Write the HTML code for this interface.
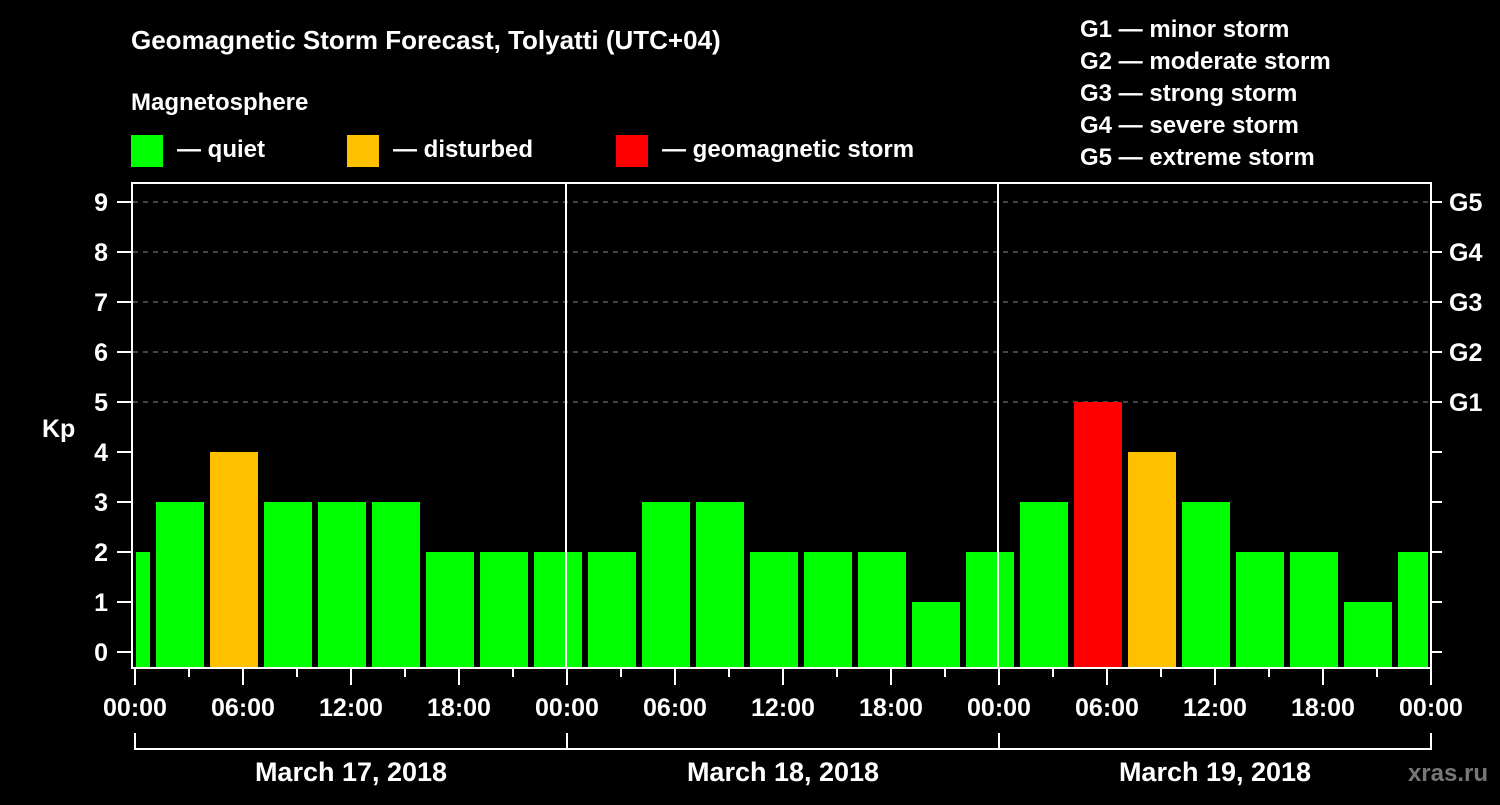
<!DOCTYPE html>
<html><head><meta charset="utf-8"><style>
body{margin:0;background:#000;}
svg text{font-family:"Liberation Sans",Arial,sans-serif;font-weight:bold;fill:#fff;}
</style></head><body>
<svg id="chart" width="1500" height="800" viewBox="0 0 1500 800" xmlns="http://www.w3.org/2000/svg">
<rect width="1500" height="800" fill="#000"/>
<text x="131" y="49" font-size="26">Geomagnetic Storm Forecast, Tolyatti (UTC+04)</text>
<text x="131" y="110" font-size="24">Magnetosphere</text>
<g><rect x="131" y="135" width="32" height="32" fill="#00ff00"/><text x="177" y="157" font-size="24">— quiet</text></g>
<g><rect x="347" y="135" width="32" height="32" fill="#ffc000"/><text x="393" y="157" font-size="24">— disturbed</text></g>
<g><rect x="616" y="135" width="32" height="32" fill="#ff0000"/><text x="662" y="157" font-size="24">— geomagnetic storm</text></g>
<g font-size="24">
<text x="1080" y="37">G1 — minor storm</text>
<text x="1080" y="69">G2 — moderate storm</text>
<text x="1080" y="101">G3 — strong storm</text>
<text x="1080" y="133">G4 — severe storm</text>
<text x="1080" y="165">G5 — extreme storm</text>
</g>
<g id="grid"></g>
<g id="bars"></g>
<g id="axes"></g>
<text x="1488" y="781" font-size="24" text-anchor="end" fill="#777" style="fill:#777">xras.ru</text>
</svg>
<script>
const kpValues=[2,3,4,3,3,3,2,2,2,2,3,3,2,2,2,1,2,3,5,4,3,2,2,1,2];
const kpTicks=[0,1,2,3,4,5,6,7,8,9];
const gLabels=["G1","G2","G3","G4","G5"];
const gLevels=[5,6,7,8,9];
const hourLabels=["00:00","06:00","12:00","18:00","00:00","06:00","12:00","18:00","00:00","06:00","12:00","18:00","00:00"];
const dayLabels=["March 17, 2018","March 18, 2018","March 19, 2018"];
const NS="http://www.w3.org/2000/svg";
const X0=135,PXH=18,L=133,R=1430,T=184,B=668;
const xh=h=>X0+h*PXH;
const yk=k=>652-k*50;
function mk(tag,attrs,parent,txt){const e=document.createElementNS(NS,tag);for(const k in attrs)e.setAttribute(k,attrs[k]);if(txt!==undefined)e.textContent=txt;parent.appendChild(e);return e;}
const grid=document.getElementById('grid'),bars=document.getElementById('bars'),axes=document.getElementById('axes');
function color(v){return v>=5?"#ff0000":(v>=4?"#ffc000":"#00ff00");}
kpValues.forEach((v,k)=>{
  const start=-1.833+3*k; // bar start hour
  let x1=xh(start)+0,x2=x1+48;
  x1=Math.max(x1,136);x2=Math.min(x2,1428);
  const r=mk('rect',{x:x1,y:yk(v),width:x2-x1,height:667-yk(v),fill:color(v)},bars);
  
  
});
// gridlines
gLevels.forEach(g=>{
  const l=mk('line',{x1:L,x2:R,y1:yk(g),y2:yk(g),stroke:'#888','stroke-dasharray':'5,5','stroke-width':1},grid);
  
  
});
// day separators
[24,48].forEach(h=>{
  const l=mk('line',{x1:xh(h)-1,x2:xh(h)-1,y1:T,y2:B,stroke:'#fff','stroke-width':2},axes);
  
  
});
// frame
const fr=mk('rect',{x:132,y:183,width:1299,height:485,fill:'none',stroke:'#fff','stroke-width':2},axes);


// y ticks and labels
kpTicks.forEach(k=>{
  mk('line',{x1:117,x2:131,y1:yk(k),y2:yk(k),stroke:'#fff','stroke-width':2},axes);
  const t=mk('text',{x:108,y:yk(k)+9,'font-size':25,'text-anchor':'end'},axes,String(k));
  
  
  if(k<5){mk('line',{x1:1432,x2:1442,y1:yk(k),y2:yk(k),stroke:'#fff','stroke-width':2},axes);}
});
gLabels.forEach((g,i)=>{
  mk('line',{x1:1432,x2:1442,y1:yk(gLevels[i]),y2:yk(gLevels[i]),stroke:'#fff','stroke-width':2},axes);
  const t=mk('text',{x:1449,y:yk(gLevels[i])+9,'font-size':25},axes,g);
  
  
});
const yt=mk('text',{x:42,y:437,'font-size':25},axes,'Kp');


// x ticks
for(let h=0;h<=72;h+=3){
  const major=h%6===0;
  mk('line',{x1:xh(h),x2:xh(h),y1:669,y2:major?685:677,stroke:'#fff','stroke-width':2},axes);
}
hourLabels.forEach((s,i)=>{
  const t=mk('text',{x:xh(i*6),y:716,'font-size':25,'text-anchor':'middle'},axes,s);
  
  
});
// day bracket
mk('path',{d:`M${xh(0)} 733 V749 H${xh(72)} V733`,fill:'none',stroke:'#fff','stroke-width':2},axes);
[24,48].forEach(h=>mk('line',{x1:xh(h),x2:xh(h),y1:733,y2:749,stroke:'#fff','stroke-width':2},axes));
dayLabels.forEach((d,i)=>{
  const t=mk('text',{x:xh(i*24+12),y:781,'font-size':27,'text-anchor':'middle'},axes,d);
  
  
});
</script>
</body></html>
